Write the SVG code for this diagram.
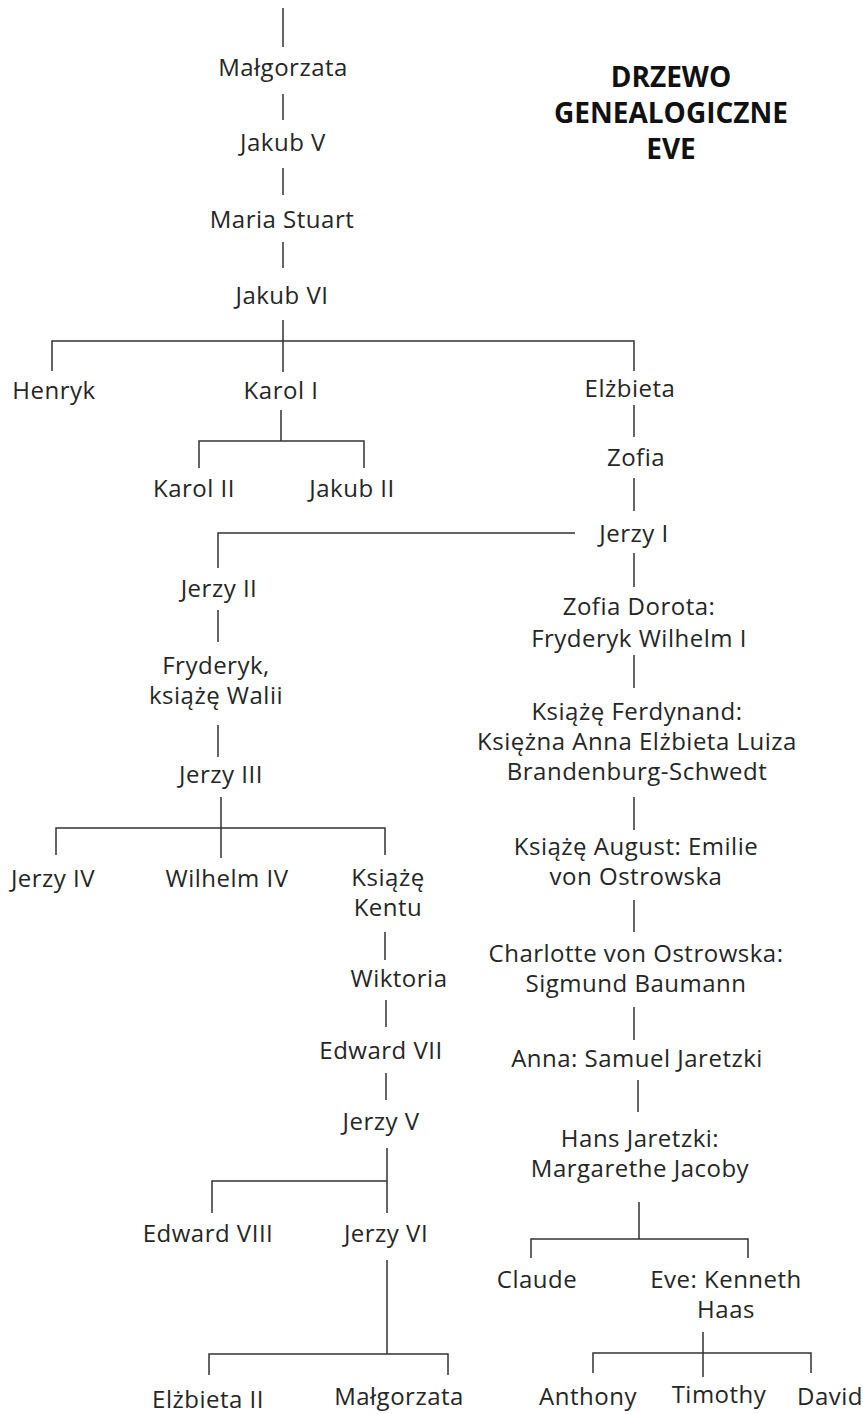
<svg xmlns="http://www.w3.org/2000/svg" width="863" height="1414" viewBox="0 0 863 1414">
<style>
.t{font-family:"Open Sans","Noto Sans","DejaVu Sans",sans-serif;font-size:24px;letter-spacing:0.5px;fill:#262626;text-anchor:middle}
.h{font-family:"Open Sans","Noto Sans","DejaVu Sans",sans-serif;font-size:28px;font-weight:bold;fill:#111;text-anchor:middle}
.c{fill:none;stroke:#333;stroke-width:1.5}
</style>
<rect width="863" height="1414" fill="#fff"/>
<g id="connectors" class="c">
<path d="M283 8V47M283 94V120M283 168V195M283 242V268M283 320V372"/>
<path d="M52 371V341H634V371"/>
<path d="M281 410V441M199 468V441H364V468"/>
<path d="M634 405V437M634 478V511"/>
<path d="M575 533H218V568M634 553V587"/>
<path d="M218 610V642M634 655V688M218 725V757"/>
<path d="M221 797V858M56 855V828H385V855"/>
<path d="M634 797V830M634 900V932M385 932V960"/>
<path d="M634 1007V1040M386 1000V1027M386 1073V1100M638 1080V1112"/>
<path d="M387 1148V1213M212 1213V1181H387"/>
<path d="M639 1202V1239M531 1258V1239H748V1258"/>
<path d="M387 1260V1354M209 1375V1354H448V1375"/>
<path d="M703 1332V1377M593 1373V1353H811V1373"/>
</g>
<g id="title"><text class="h" x="671"><tspan x="671" y="87">DRZEWO</tspan><tspan x="671" y="123">GENEALOGICZNE</tspan><tspan x="671" y="159">EVE</tspan></text></g>
<g id="malgorzata1"><text class="t" x="283" y="76">Małgorzata</text></g>
<g id="jakub5"><text class="t" x="283" y="151">Jakub V</text></g>
<g id="maria"><text class="t" x="282" y="228">Maria Stuart</text></g>
<g id="jakub6"><text class="t" x="282" y="304">Jakub VI</text></g>
<g id="henryk"><text class="t" x="54" y="399">Henryk</text></g>
<g id="karol1"><text class="t" x="281" y="399">Karol I</text></g>
<g id="elzbieta"><text class="t" x="630" y="397">Elżbieta</text></g>
<g id="karol2"><text class="t" x="194" y="497">Karol II</text></g>
<g id="jakub2"><text class="t" x="352" y="497">Jakub II</text></g>
<g id="zofia"><text class="t" x="636" y="466">Zofia</text></g>
<g id="jerzy1"><text class="t" x="634" y="542">Jerzy I</text></g>
<g id="jerzy2"><text class="t" x="219" y="597">Jerzy II</text></g>
<g id="zofiadorota"><text class="t"><tspan x="639" y="615">Zofia Dorota:</tspan><tspan x="639" y="647">Fryderyk Wilhelm I</tspan></text></g>
<g id="fryderyk"><text class="t"><tspan x="216" y="674">Fryderyk,</tspan><tspan x="216" y="704">książę Walii</tspan></text></g>
<g id="jerzy3"><text class="t" x="221" y="783">Jerzy III</text></g>
<g id="ferdynand"><text class="t"><tspan x="637" y="720">Książę Ferdynand:</tspan><tspan x="637" y="750">Księżna Anna Elżbieta Luiza</tspan><tspan x="637" y="780">Brandenburg-Schwedt</tspan></text></g>
<g id="august"><text class="t"><tspan x="636" y="855">Książę August: Emilie</tspan><tspan x="636" y="885">von Ostrowska</tspan></text></g>
<g id="jerzy4"><text class="t" x="53" y="887">Jerzy IV</text></g>
<g id="wilhelm4"><text class="t" x="227" y="887">Wilhelm IV</text></g>
<g id="kent"><text class="t"><tspan x="388" y="886">Książę</tspan><tspan x="388" y="916">Kentu</tspan></text></g>
<g id="charlotte"><text class="t"><tspan x="636" y="962">Charlotte von Ostrowska:</tspan><tspan x="636" y="992">Sigmund Baumann</tspan></text></g>
<g id="wiktoria"><text class="t" x="399" y="987">Wiktoria</text></g>
<g id="edward7"><text class="t" x="381" y="1059">Edward VII</text></g>
<g id="anna"><text class="t" x="637" y="1067">Anna: Samuel Jaretzki</text></g>
<g id="jerzy5"><text class="t" x="381" y="1130">Jerzy V</text></g>
<g id="hans"><text class="t"><tspan x="640" y="1147">Hans Jaretzki:</tspan><tspan x="640" y="1177">Margarethe Jacoby</tspan></text></g>
<g id="edward8"><text class="t" x="208" y="1242">Edward VIII</text></g>
<g id="jerzy6"><text class="t" x="386" y="1242">Jerzy VI</text></g>
<g id="claude"><text class="t" x="537" y="1288">Claude</text></g>
<g id="eve"><text class="t"><tspan x="726" y="1288">Eve: Kenneth</tspan><tspan x="726" y="1318">Haas</tspan></text></g>
<g id="elzbieta2"><text class="t" x="208" y="1408">Elżbieta II</text></g>
<g id="malgorzata2"><text class="t" x="399" y="1405">Małgorzata</text></g>
<g id="anthony"><text class="t" x="588" y="1405">Anthony</text></g>
<g id="timothy"><text class="t" x="719" y="1403">Timothy</text></g>
<g id="david"><text class="t" x="830" y="1405">David</text></g>
</svg>
